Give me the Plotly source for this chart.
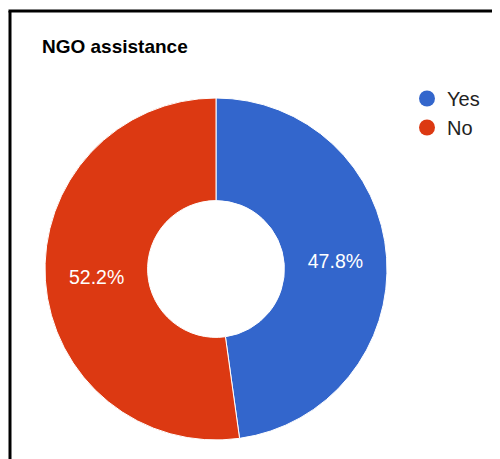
import plotly.graph_objects as go

title = "NGO assistance"
labels = ["Yes", "No"]
values = [47.8, 52.2]
colors = ["#3366CC", "#DC3912"]

OFF = 8  # page body margin
W, H = 500 - OFF, 459 - OFF


def px(x):
    return (x - OFF) / W


def py(y):
    return 1 - (y - OFF) / H


fig = go.Figure()

fig.add_trace(go.Pie(
    labels=labels, values=values, hole=0.4, sort=False, direction="clockwise",
    rotation=0, marker=dict(colors=colors, line=dict(color="white", width=1)),
    textinfo="percent", texttemplate="%{percent:.1%}", textposition="inside",
    insidetextorientation="horizontal",
    insidetextfont=dict(color="white", size=19.5, family="Arial, Liberation Sans"),
    showlegend=False, hoverinfo="label+percent",
    domain=dict(x=[px(45), px(387)], y=[py(440), py(98)]),
))

for lab, col in zip(labels, colors):
    fig.add_trace(go.Scatter(
        x=[None], y=[None], mode="markers", name=lab,
        marker=dict(color=col, size=20, symbol="circle"),
    ))

fig.update_layout(
    width=W, height=H,
    margin=dict(l=0, r=0, t=0, b=0),
    paper_bgcolor="white", plot_bgcolor="white",
    font=dict(family="Arial, Liberation Sans", color="#222222"),
    xaxis=dict(visible=False), yaxis=dict(visible=False),
    title=dict(text="<b>" + title + "</b>", x=px(42), xanchor="left",
               y=py(46), yanchor="middle",
               font=dict(size=19, color="#000000", family="Arial, Liberation Sans")),
    legend=dict(x=px(407), y=py(79), xanchor="left", yanchor="top",
                font=dict(size=20, color="#222222"), itemsizing="trace",
                tracegroupgap=4, bgcolor="rgba(0,0,0,0)"),
    shapes=[
        dict(type="line", xref="paper", yref="paper", x0=px(10), x1=px(10),
             y0=0, y1=py(11), line=dict(color="black", width=3)),
        dict(type="line", xref="paper", yref="paper", x0=px(8.5), x1=1,
             y0=py(11), y1=py(11), line=dict(color="black", width=3)),
    ],
)

fig.write_html("out.html")
